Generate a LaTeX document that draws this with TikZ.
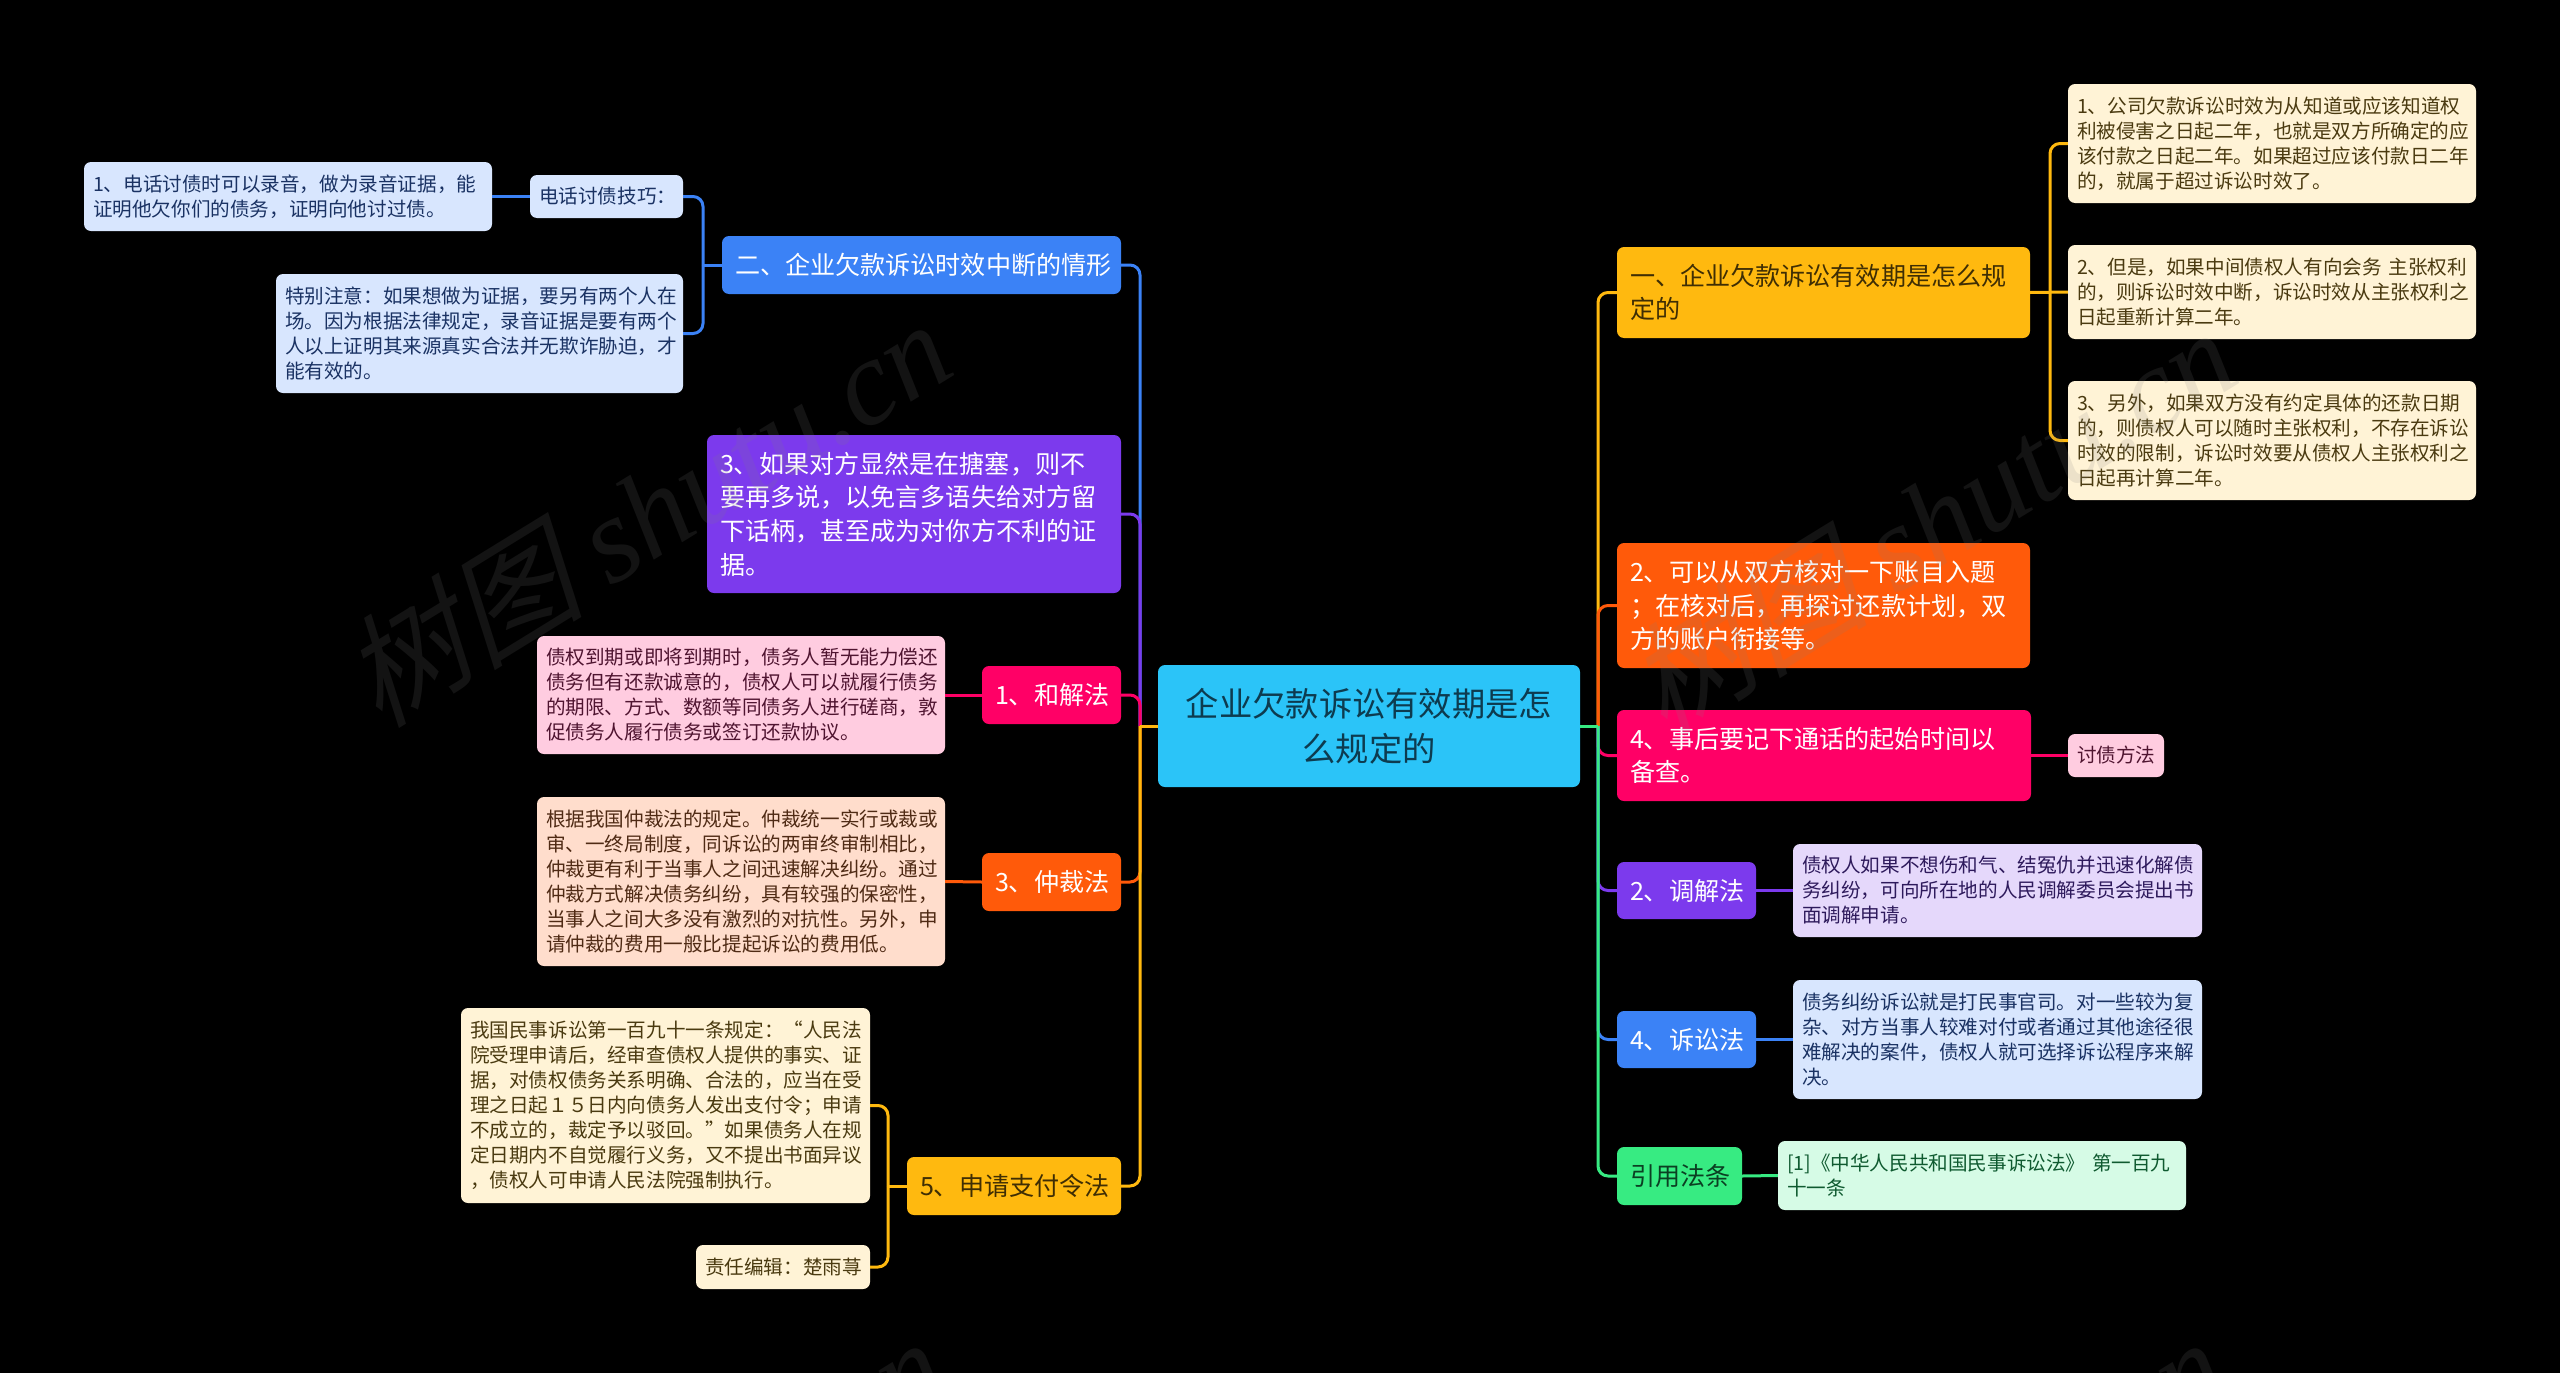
\documentclass[tikz,border=0pt]{standalone}
\usepackage{fontspec}
\setmainfont{Noto Sans CJK SC}
\newfontfamily\markcjk[FakeSlant=0.25]{Noto Sans CJK SC}
\newfontfamily\marklatin{Liberation Serif Italic}
\usetikzlibrary{positioning}

\definecolor{rootcyan}{HTML}{2BC4F8}
\definecolor{rootink}{HTML}{0D3B4F}
\definecolor{amberfill}{HTML}{FFB90F}
\definecolor{amberink}{HTML}{3F2E04}
\definecolor{amberleaf}{HTML}{FFF3D6}
\definecolor{amberleafink}{HTML}{4A3A10}
\definecolor{orangefill}{HTML}{FF5A0A}
\definecolor{orangeleaf}{HTML}{FFDDCC}
\definecolor{orangeink}{HTML}{4F2A14}
\definecolor{pinkfill}{HTML}{FF0066}
\definecolor{pinkleaf}{HTML}{FFCCE0}
\definecolor{pinkink}{HTML}{4F1430}
\definecolor{purplefill}{HTML}{7C3AED}
\definecolor{purpleleaf}{HTML}{E5D8FB}
\definecolor{purpleink}{HTML}{2E1A5C}
\definecolor{bluefill}{HTML}{3B82F6}
\definecolor{blueleaf}{HTML}{D8E6FE}
\definecolor{blueink}{HTML}{1A3263}
\definecolor{greenfill}{HTML}{37EB82}
\definecolor{greenleaf}{HTML}{D6FBE6}
\definecolor{greenink}{HTML}{0F5A30}
\definecolor{greenbold}{HTML}{0B3F22}

\tikzset{
    rootbox/.style 2 args={rectangle, rounded corners=7pt, fill=rootcyan, text=rootink,
        font=\fontsize{33.3}{44.6}\selectfont, align=center, inner sep=0pt,
        minimum width=#1pt, minimum height=#2pt},
    branchbox/.style 2 args={rectangle, rounded corners=7pt, text=white,
        font=\fontsize{25.1}{33.6}\selectfont, align=left, inner xsep=13pt, inner ysep=0pt,
        text width=#1pt-26pt, minimum height=#2pt},
    leafbox/.style 2 args={rectangle, rounded corners=7pt,
        font=\fontsize{19.6}{25}\selectfont, align=left, inner xsep=9pt, inner ysep=0pt,
        text width=#1pt-18pt, minimum height=#2pt},
    link/.style={line width=3pt, rounded corners=10pt},
    markword/.style={text=gray, opacity=0.15, rotate=31.6, font=\fontsize{122}{122}\selectfont}
}

\begin{document}
\begin{tikzpicture}[x=1pt, y=-1pt]
    \useasboundingbox (0, 0) rectangle (2560, 1373);
    \fill [black] (0, 0) rectangle (2560, 1373);

    \coordinate (leftjoin) at (1140, 726);
    \coordinate (rightjoin) at (1598, 726);
    \coordinate (phonejoin) at (703, 265);
    \coordinate (courtjoin) at (888, 1186);
    \coordinate (caseupjoin) at (2050, 292);

    % centre
    \node (root) at (1369, 726) [rootbox={422}{122}] {企业欠款诉讼有效期是怎\\么规定的};

    % left side
    \node (breakoff) at (921.5, 265) [branchbox={399}{58}, fill=bluefill] {二、企业欠款诉讼时效中断的情形};
    \node (phonetip) at (606.5, 196.5) [leafbox={153}{43}, fill=blueleaf, text=blueink] {电话讨债技巧：};
    \node (phoneone) at (288, 196.5) [leafbox={408}{69}, fill=blueleaf, text=blueink] {1、电话讨债时可以录音，做为录音证据，能\\证明他欠你们的债务，证明向他讨过债。};
    \node (phonenote) at (479.5, 333.5) [leafbox={407}{119}, fill=blueleaf, text=blueink] {特别注意：如果想做为证据，要另有两个人在\\场。因为根据法律规定，录音证据是要有两个\\人以上证明其来源真实合法并无欺诈胁迫，才\\能有效的。};
    \node (stall) at (914, 514) [branchbox={414}{158}, fill=purplefill] {3、如果对方显然是在搪塞，则不\\要再多说，以免言多语失给对方留\\下话柄，甚至成为对你方不利的证\\据。};
    \node (settle) at (1051.5, 695) [branchbox={139}{58}, fill=pinkfill] {1、和解法};
    \node (settleleaf) at (741, 695) [leafbox={408}{118}, fill=pinkleaf, text=pinkink] {债权到期或即将到期时，债务人暂无能力偿还\\债务但有还款诚意的，债权人可以就履行债务\\的期限、方式、数额等同债务人进行磋商，敦\\促债务人履行债务或签订还款协议。};
    \node (arbitrate) at (1051.5, 882) [branchbox={139}{58}, fill=orangefill] {3、仲裁法};
    \node (arbitrateleaf) at (741, 881.5) [leafbox={408}{169}, fill=orangeleaf, text=orangeink] {根据我国仲裁法的规定。仲裁统一实行或裁或\\审、一终局制度，同诉讼的两审终审制相比，\\仲裁更有利于当事人之间迅速解决纠纷。通过\\仲裁方式解决债务纠纷，具有较强的保密性，\\当事人之间大多没有激烈的对抗性。另外，申\\请仲裁的费用一般比提起诉讼的费用低。};
    \node (court) at (1014, 1186) [branchbox={214}{58}, fill=amberfill, text=amberink] {5、申请支付令法};
    \node (courtleaf) at (665.5, 1105.5) [leafbox={409}{195}, fill=amberleaf, text=amberleafink] {我国民事诉讼第一百九十一条规定：“人民法\\院受理申请后，经审查债权人提供的事实、证\\据，对债权债务关系明确、合法的，应当在受\\理之日起１５日内向债务人发出支付令；申请\\不成立的，裁定予以驳回。”如果债务人在规\\定日期内不自觉履行义务，又不提出书面异议\\，债权人可申请人民法院强制执行。};
    \node (editor) at (783, 1267) [leafbox={174}{44}, fill=amberleaf, text=amberleafink] {责任编辑：楚雨荨};

    % right side
    \node (caseup) at (1823.5, 292.5) [branchbox={413}{91}, fill=amberfill, text=amberink] {一、企业欠款诉讼有效期是怎么规\\定的};
    \node (caseone) at (2272, 143.5) [leafbox={408}{119}, fill=amberleaf, text=amberleafink] {1、公司欠款诉讼时效为从知道或应该知道权\\利被侵害之日起二年，也就是双方所确定的应\\该付款之日起二年。如果超过应该付款日二年\\的，就属于超过诉讼时效了。};
    \node (casetwo) at (2272, 292) [leafbox={408}{94}, fill=amberleaf, text=amberleafink] {2、但是，如果中间债权人有向会务 主张权利\\的，则诉讼时效中断，诉讼时效从主张权利之\\日起重新计算二年。};
    \node (casethree) at (2272, 440.5) [leafbox={408}{119}, fill=amberleaf, text=amberleafink] {3、另外，如果双方没有约定具体的还款日期\\的，则债权人可以随时主张权利，不存在诉讼\\时效的限制，诉讼时效要从债权人主张权利之\\日起再计算二年。};
    \node (account) at (1823.5, 605.5) [branchbox={413}{125}, fill=orangefill] {2、可以从双方核对一下账目入题\\；在核对后，再探讨还款计划，双\\方的账户衔接等。};
    \node (record) at (1824, 755.5) [branchbox={414}{91}, fill=pinkfill] {4、事后要记下通话的起始时间以\\备查。};
    \node (recordleaf) at (2116, 755.5) [leafbox={96}{43}, fill=pinkleaf, text=pinkink] {讨债方法};
    \node (mediate) at (1686.5, 890.5) [branchbox={139}{57}, fill=purplefill] {2、调解法};
    \node (mediateleaf) at (1997.5, 890.5) [leafbox={409}{93}, fill=purpleleaf, text=purpleink] {债权人如果不想伤和气、结冤仇并迅速化解债\\务纠纷，可向所在地的人民调解委员会提出书\\面调解申请。};
    \node (sue) at (1686.5, 1039.5) [branchbox={139}{57}, fill=bluefill] {4、诉讼法};
    \node (sueleaf) at (1997.5, 1039.5) [leafbox={409}{119}, fill=blueleaf, text=blueink] {债务纠纷诉讼就是打民事官司。对一些较为复\\杂、对方当事人较难对付或者通过其他途径很\\难解决的案件，债权人就可选择诉讼程序来解\\决。};
    \node (cite) at (1679.5, 1176) [branchbox={125}{58}, fill=greenfill, text=greenbold] {引用法条};
    \node (citeleaf) at (1982, 1175.5) [leafbox={408}{69}, fill=greenleaf, text=greenink] {[1]《中华人民共和国民事诉讼法》 第一百九\\十一条};

    % links, left side
    \draw [link, bluefill] (breakoff.east) -| (leftjoin);
    \draw [link, purplefill] (stall.east) -| (leftjoin);
    \draw [link, pinkfill] (settle.east) -| (leftjoin);
    \draw [link, orangefill] (arbitrate.east) -| (leftjoin);
    \draw [link, amberfill] (court.east) -| (leftjoin);
    \draw [link, amberfill] (leftjoin) -- (root.west);
    \draw [link, bluefill] (breakoff.west) -- (phonejoin);
    \draw [link, bluefill] (phonejoin) |- (phonetip.east);
    \draw [link, bluefill] (phonejoin) |- (phonenote.east);
    \draw [link, bluefill] (phonetip.west) -- (phoneone.east);
    \draw [link, pinkfill] (settle.west) -- (settleleaf.east);
    \draw [link, orangefill] (arbitrate.west) -- (arbitrateleaf.east);
    \draw [link, amberfill] (court.west) -- (courtjoin);
    \draw [link, amberfill] (courtjoin) |- (courtleaf.east);
    \draw [link, amberfill] (courtjoin) |- (editor.east);

    % links, right side
    \draw [link, amberfill] (rightjoin) |- (caseup.west);
    \draw [link, orangefill] (rightjoin) |- (account.west);
    \draw [link, pinkfill] (rightjoin) |- (record.west);
    \draw [link, purplefill] (rightjoin) |- (mediate.west);
    \draw [link, bluefill] (rightjoin) |- (sue.west);
    \draw [link, greenfill] (rightjoin) |- (cite.west);
    \draw [link, greenfill] (root.east) -- (rightjoin);
    \draw [link, amberfill] (caseupjoin) |- (caseone.west);
    \draw [link, amberfill] (caseupjoin) |- (casethree.west);
    \draw [link, amberfill] (caseup.east) -- (casetwo.west);
    \draw [link, pinkfill] (record.east) -- (recordleaf.west);
    \draw [link, purplefill] (mediate.east) -- (mediateleaf.west);
    \draw [link, bluefill] (sue.east) -- (sueleaf.west);
    \draw [link, greenfill] (cite.east) -- (citeleaf.west);

    % watermark
    \begin{scope}
        \clip (0, 0) rectangle (2560, 1373);
        \node (markone) at (645, 512) [markword] {\markcjk 树图 \marklatin shutu.cn};
        \node (marktwo) at (1930, 520) [markword] {\markcjk 树图 \marklatin shutu.cn};
        \node (markthree) at (640, 1530) [markword] {\markcjk 树图 \marklatin shutu.cn};
        \node (markfour) at (1920, 1530) [markword] {\markcjk 树图 \marklatin shutu.cn};
    \end{scope}
\end{tikzpicture}
\end{document}
